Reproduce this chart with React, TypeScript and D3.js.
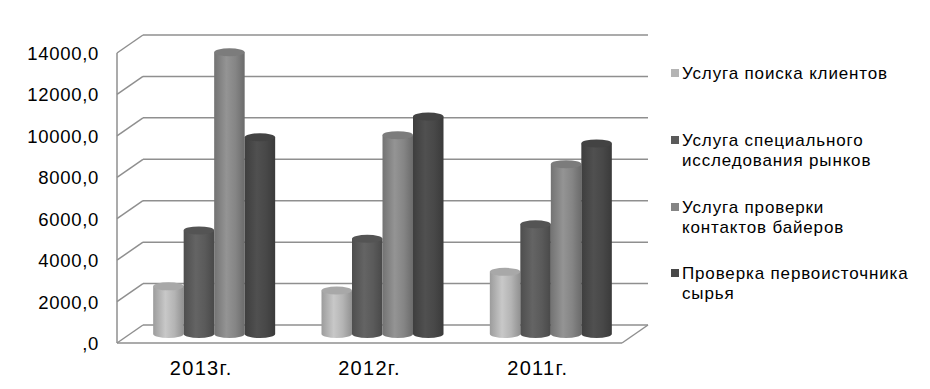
import React from "react";
import * as d3 from "d3";

const categories = ["2013г.", "2012г.", "2011г."];
const seriesNames = [
  ["Услуга поиска клиентов"],
  ["Услуга специального", "исследования рынков"],
  ["Услуга проверки", "контактов байеров"],
  ["Проверка первоисточника", "сырья"],
];
const s1 = [2300, 2100, 3000];
const s2 = [5000, 4600, 5300];
const s3 = [13600, 9600, 8200];
const s4 = [9500, 10500, 9200];
const seriesValues = [s1, s2, s3, s4];
const seriesColors = ["#b4b4b4", "#5a5a5a", "#858585", "#484848"];
const yTicks = [0, 2000, 4000, 6000, 8000, 10000, 12000, 14000];

export default function App() {
  const W = 930, H = 389;
  const left = 117, right = 622, bottom = 343, top = 53;
  const dx = 26, dy = -18;
  const y = d3.scaleLinear().domain([0, 14000]).range([bottom, top]);
  const x = d3.scaleBand<string>().domain(categories).range([left, right]).padding(0);
  const groupW = 122;
  const xs = d3.scaleBand<number>().domain([0, 1, 2, 3]).range([0, groupW]).padding(0);
  const bw = xs.bandwidth();
  const ry = 4;
  const fmt = (v: number) => (v === 0 ? ",0" : `${v},0`);
  const gridColor = "#8f8f8f";

  const grads = seriesColors.map((c, i) => {
    const base = d3.color(c)!;
    return (
      <linearGradient key={i} id={`g${i}`} x1="0" x2="1" y1="0" y2="0">
        <stop offset="0" stopColor={base.darker(0.4).formatHex()} />
        <stop offset="0.4" stopColor={base.brighter(0.3).formatHex()} />
        <stop offset="0.7" stopColor={base.formatHex()} />
        <stop offset="1" stopColor={base.darker(0.6).formatHex()} />
      </linearGradient>
    );
  });

  const bars: JSX.Element[] = [];
  categories.forEach((cat, ci) => {
    const cx = (x(cat) as number) + x.bandwidth() / 2 + dx / 2;
    const gx0 = cx - groupW / 2;
    seriesValues.forEach((vals, si) => {
      const x0 = gx0 + (xs(si) as number);
      const rx = bw / 2;
      const yb = y(0) + dy / 2;
      const yt = y(vals[ci]) + dy / 2;
      const body = `M${x0},${yt} L${x0},${yb} A${rx},${ry} 0 0 0 ${x0 + bw},${yb} L${x0 + bw},${yt} Z`;
      const topC = d3.color(seriesColors[si])!.darker(0.2).formatHex();
      bars.push(
        <g key={`${ci}-${si}`}>
          <path d={body} fill={`url(#g${si})`} />
          <ellipse cx={x0 + rx} cy={yt} rx={rx} ry={ry} fill={topC} />
        </g>
      );
    });
  });

  const legendY = [79, 146, 213, 279];

  return (
    <svg width={W} height={H} style={{ position: "absolute", left: 0, top: 0, background: "#fff" }}
      fontFamily="'Liberation Sans', Arial, sans-serif">
      <defs>{grads}</defs>
      {yTicks.map((t) => (
        <g key={t} stroke={gridColor} strokeWidth={1.5} fill="none">
          <line x1={left + dx} x2={right + dx} y1={y(t) + dy} y2={y(t) + dy} />
          <line x1={left} x2={left + dx} y1={y(t)} y2={y(t) + dy} />
        </g>
      ))}
      <g stroke={gridColor} strokeWidth={1.5} fill="none">
        <line x1={left} x2={left} y1={y(14000)} y2={bottom} />
        <line x1={left} x2={right} y1={bottom} y2={bottom} />
        <line x1={right} x2={right + dx} y1={bottom} y2={bottom + dy} />
      </g>
      {bars}
      {yTicks.map((t) => (
        <text key={t} x={99} y={y(t) + 7} textAnchor="end" fontSize={18.5} letterSpacing={0.7} fill="#000">
          {fmt(t)}
        </text>
      ))}
      {categories.map((c) => (
        <text key={c} x={(x(c) as number) + x.bandwidth() / 2} y={375} textAnchor="middle" fontSize={20} letterSpacing={1.3} fill="#000">
          {c}
        </text>
      ))}
      {seriesNames.map((lines, i) => (
        <g key={i}>
          <rect x={671} y={legendY[i] - 10} width={8} height={8} fill={seriesColors[i]} />
          {lines.map((l, li) => (
            <text key={li} x={682} y={legendY[i] + li * 20} fontSize={17} letterSpacing={0.85} fill="#000">{l}</text>
          ))}
        </g>
      ))}
    </svg>
  );
}
